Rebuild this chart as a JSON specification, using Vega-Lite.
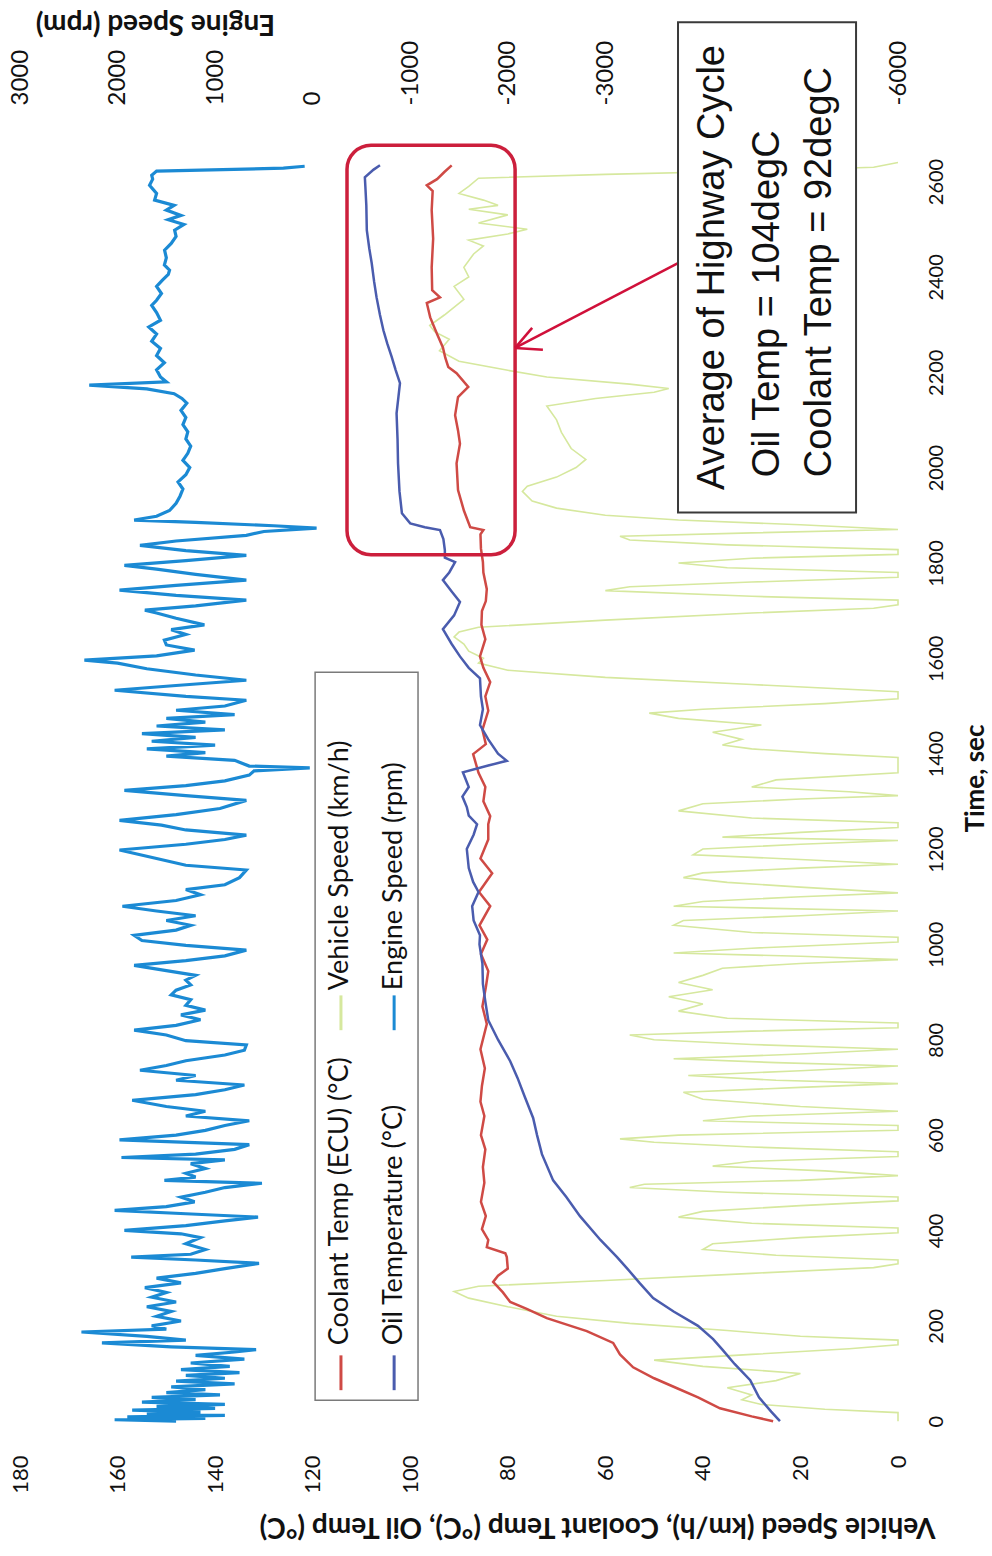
{
  "$schema": "https://vega.github.io/schema/vega-lite/v6.json",
  "width": 878,
  "height": 1335,
  "autosize": {"type": "none"},
  "padding": {"left": 20, "top": 110, "right": 94, "bottom": 111},
  "background": "white",
  "config": {
    "view": {"stroke": null},
    "axis": {"grid": false, "domain": false, "ticks": false, "tickSize": 0, "labelColor": "#111", "titleColor": "#111", "labelFont": "Lato", "titleFont": "Lato"}
  },
  "datasets": {
    "coolant": [
      {"t":0,"v":25.6},{"t":10,"v":30},{"t":27,"v":36.5},{"t":50,"v":41},{"t":69,"v":45.3},{"t":90,"v":50},{"t":113,"v":54.3},{"t":140,"v":57},{"t":164,"v":58.4},{"t":189,"v":63.8},{"t":216,"v":72},{"t":235,"v":76},{"t":250,"v":79.5},{"t":270,"v":81},{"t":292,"v":83},{"t":305,"v":82},{"t":320,"v":80},{"t":344,"v":80.2},{"t":352,"v":80.5},{"t":365,"v":84.3},{"t":380,"v":84},{"t":403,"v":85.3},{"t":430,"v":84.5},{"t":460,"v":85.5},{"t":500,"v":84.8},{"t":533,"v":85.1},{"t":570,"v":84.6},{"t":600,"v":85.5},{"t":640,"v":84.8},{"t":670,"v":85.6},{"t":703,"v":85.3},{"t":740,"v":84.7},{"t":780,"v":85.6},{"t":833,"v":84.3},{"t":870,"v":85.2},{"t":910,"v":84.5},{"t":944,"v":84},{"t":980,"v":85.5},{"t":1010,"v":84.2},{"t":1040,"v":85.8},{"t":1080,"v":83.6},{"t":1110,"v":85.9},{"t":1149,"v":83.2},{"t":1180,"v":85.6},{"t":1220,"v":84},{"t":1252,"v":84},{"t":1269,"v":83.6},{"t":1300,"v":85},{"t":1330,"v":84.6},{"t":1360,"v":86},{"t":1399,"v":87.1},{"t":1420,"v":84.5},{"t":1450,"v":85.2},{"t":1490,"v":84},{"t":1520,"v":84.6},{"t":1550,"v":83.6},{"t":1580,"v":85},{"t":1604,"v":85.7},{"t":1640,"v":84.6},{"t":1670,"v":85.4},{"t":1699,"v":85.3},{"t":1720,"v":84.5},{"t":1745,"v":84.3},{"t":1780,"v":85},{"t":1802,"v":85.1},{"t":1830,"v":85.5},{"t":1860,"v":85.6},{"t":1869,"v":85},{"t":1875,"v":87.7},{"t":1910,"v":89},{"t":1953,"v":90.2},{"t":2009,"v":90.5},{"t":2050,"v":89.8},{"t":2078,"v":90.2},{"t":2110,"v":90.8},{"t":2148,"v":90.2},{"t":2169,"v":88.1},{"t":2198,"v":90.5},{"t":2211,"v":92.2},{"t":2230,"v":92.8},{"t":2252,"v":93.3},{"t":2280,"v":94.5},{"t":2315,"v":95.9},{"t":2345,"v":96.6},{"t":2357,"v":93.9},{"t":2372,"v":95.5},{"t":2420,"v":95.6},{"t":2480,"v":95.3},{"t":2540,"v":95.6},{"t":2580,"v":95.4},{"t":2592,"v":96.6},{"t":2605,"v":94.5},{"t":2620,"v":93},{"t":2634,"v":91.5}
    ],
    "oil": [
      {"t":0,"v":24.2},{"t":20,"v":26},{"t":50,"v":28.5},{"t":86,"v":30.3},{"t":120,"v":33.5},{"t":150,"v":36},{"t":172,"v":37.9},{"t":200,"v":41},{"t":230,"v":46},{"t":258,"v":50.2},{"t":290,"v":53},{"t":320,"v":55.5},{"t":344,"v":57.6},{"t":380,"v":61},{"t":430,"v":65.2},{"t":470,"v":68},{"t":505,"v":70.7},{"t":560,"v":73},{"t":600,"v":74},{"t":636,"v":74.8},{"t":680,"v":76.5},{"t":720,"v":78},{"t":755,"v":79.5},{"t":800,"v":82},{"t":841,"v":84},{"t":880,"v":84.6},{"t":917,"v":85.1},{"t":960,"v":85.2},{"t":1000,"v":85.8},{"t":1019,"v":85.7},{"t":1050,"v":87},{"t":1080,"v":87.3},{"t":1110,"v":86},{"t":1131,"v":87.1},{"t":1160,"v":88},{"t":1200,"v":88.4},{"t":1230,"v":87},{"t":1252,"v":86.3},{"t":1270,"v":88},{"t":1288,"v":88.4},{"t":1310,"v":89.3},{"t":1330,"v":88},{"t":1361,"v":89.2},{"t":1375,"v":84},{"t":1385,"v":80.2},{"t":1400,"v":82},{"t":1430,"v":84},{"t":1460,"v":85.7},{"t":1493,"v":85.1},{"t":1520,"v":85.5},{"t":1558,"v":85.7},{"t":1580,"v":88},{"t":1604,"v":89.8},{"t":1630,"v":91.5},{"t":1661,"v":93.3},{"t":1690,"v":91},{"t":1718,"v":89.8},{"t":1740,"v":91.5},{"t":1764,"v":93.3},{"t":1780,"v":92},{"t":1802,"v":90.8},{"t":1811,"v":92.9},{"t":1827,"v":92.9},{"t":1850,"v":93.2},{"t":1869,"v":93.9},{"t":1875,"v":97},{"t":1883,"v":100},{"t":1904,"v":101.7},{"t":1950,"v":102.2},{"t":2009,"v":102.5},{"t":2060,"v":102.6},{"t":2114,"v":102.8},{"t":2150,"v":102.4},{"t":2177,"v":102.1},{"t":2205,"v":103},{"t":2232,"v":103.8},{"t":2260,"v":104.7},{"t":2288,"v":105.5},{"t":2320,"v":106.2},{"t":2357,"v":106.9},{"t":2390,"v":107.4},{"t":2429,"v":107.9},{"t":2460,"v":108.4},{"t":2498,"v":108.9},{"t":2550,"v":109},{"t":2590,"v":109.2},{"t":2609,"v":109.3},{"t":2625,"v":107.5},{"t":2634,"v":106.2}
    ],
    "speed": [
      {"t":0,"v":0},{"t":18,"v":0},{"t":25,"v":15},{"t":35,"v":28},{"t":45,"v":32},{"t":55,"v":30},{"t":70,"v":35},{"t":85,"v":25},{"t":100,"v":20},{"t":115,"v":40},{"t":128,"v":50},{"t":140,"v":30},{"t":152,"v":10},{"t":160,"v":0},{"t":170,"v":0},{"t":178,"v":20},{"t":190,"v":35},{"t":205,"v":55},{"t":220,"v":70},{"t":240,"v":80},{"t":258,"v":88},{"t":272,"v":91},{"t":283,"v":86},{"t":295,"v":60},{"t":310,"v":30},{"t":322,"v":5},{"t":330,"v":0},{"t":338,"v":0},{"t":348,"v":25},{"t":360,"v":40},{"t":372,"v":38},{"t":385,"v":20},{"t":395,"v":0},{"t":405,"v":0},{"t":415,"v":30},{"t":428,"v":45},{"t":440,"v":40},{"t":452,"v":20},{"t":462,"v":0},{"t":470,"v":0},{"t":480,"v":35},{"t":490,"v":55},{"t":497,"v":52},{"t":505,"v":20},{"t":515,"v":0},{"t":525,"v":15},{"t":535,"v":38},{"t":545,"v":30},{"t":555,"v":0},{"t":565,"v":0},{"t":575,"v":30},{"t":585,"v":50},{"t":592,"v":57},{"t":600,"v":45},{"t":610,"v":0},{"t":620,"v":0},{"t":630,"v":40},{"t":640,"v":30},{"t":650,"v":0},{"t":660,"v":20},{"t":675,"v":40},{"t":690,"v":44},{"t":700,"v":20},{"t":708,"v":0},{"t":715,"v":25},{"t":725,"v":43},{"t":735,"v":20},{"t":745,"v":0},{"t":752,"v":25},{"t":760,"v":46},{"t":770,"v":20},{"t":780,"v":0},{"t":790,"v":30},{"t":800,"v":50},{"t":810,"v":55},{"t":818,"v":30},{"t":825,"v":0},{"t":835,"v":0},{"t":845,"v":35},{"t":860,"v":45},{"t":875,"v":40},{"t":890,"v":47},{"t":905,"v":38},{"t":920,"v":45},{"t":935,"v":40},{"t":950,"v":36},{"t":960,"v":20},{"t":968,"v":0},{"t":975,"v":20},{"t":982,"v":46},{"t":992,"v":30},{"t":1005,"v":0},{"t":1015,"v":0},{"t":1025,"v":30},{"t":1040,"v":46},{"t":1050,"v":44},{"t":1060,"v":20},{"t":1070,"v":0},{"t":1080,"v":46},{"t":1090,"v":40},{"t":1100,"v":20},{"t":1108,"v":0},{"t":1120,"v":20},{"t":1130,"v":35},{"t":1140,"v":44},{"t":1150,"v":40},{"t":1160,"v":20},{"t":1168,"v":0},{"t":1178,"v":20},{"t":1188,"v":42},{"t":1200,"v":40},{"t":1210,"v":20},{"t":1218,"v":0},{"t":1225,"v":36},{"t":1235,"v":20},{"t":1245,"v":0},{"t":1255,"v":0},{"t":1265,"v":30},{"t":1280,"v":45},{"t":1295,"v":40},{"t":1305,"v":20},{"t":1312,"v":0},{"t":1320,"v":10},{"t":1330,"v":30},{"t":1345,"v":25},{"t":1360,"v":0},{"t":1392,"v":0},{"t":1400,"v":15},{"t":1410,"v":30},{"t":1418,"v":36},{"t":1430,"v":32},{"t":1445,"v":38},{"t":1460,"v":28},{"t":1474,"v":45},{"t":1485,"v":51},{"t":1493,"v":40},{"t":1505,"v":15},{"t":1515,"v":0},{"t":1530,"v":0},{"t":1545,"v":30},{"t":1560,"v":60},{"t":1575,"v":80},{"t":1590,"v":86},{"t":1600,"v":85},{"t":1615,"v":88},{"t":1630,"v":89},{"t":1645,"v":91},{"t":1655,"v":90},{"t":1665,"v":86},{"t":1680,"v":60},{"t":1695,"v":30},{"t":1705,"v":5},{"t":1712,"v":0},{"t":1722,"v":0},{"t":1730,"v":30},{"t":1742,"v":60},{"t":1750,"v":55},{"t":1760,"v":30},{"t":1770,"v":0},{"t":1780,"v":0},{"t":1790,"v":35},{"t":1800,"v":45},{"t":1810,"v":30},{"t":1818,"v":0},{"t":1828,"v":0},{"t":1838,"v":35},{"t":1848,"v":55},{"t":1856,"v":57},{"t":1863,"v":30},{"t":1870,"v":0},{"t":1880,"v":20},{"t":1890,"v":45},{"t":1900,"v":60},{"t":1915,"v":70},{"t":1930,"v":75},{"t":1950,"v":77},{"t":1961,"v":76},{"t":1980,"v":70},{"t":2000,"v":66},{"t":2017,"v":64},{"t":2040,"v":67},{"t":2074,"v":69},{"t":2100,"v":70},{"t":2129,"v":72},{"t":2145,"v":62},{"t":2158,"v":50},{"t":2166,"v":47},{"t":2175,"v":55},{"t":2190,"v":72},{"t":2204,"v":80},{"t":2223,"v":90},{"t":2245,"v":94},{"t":2269,"v":92},{"t":2285,"v":95},{"t":2298,"v":96},{"t":2320,"v":93},{"t":2353,"v":89},{"t":2380,"v":91},{"t":2400,"v":88},{"t":2420,"v":89},{"t":2448,"v":87},{"t":2465,"v":85},{"t":2477,"v":88},{"t":2490,"v":80},{"t":2500,"v":76},{"t":2513,"v":86},{"t":2530,"v":80},{"t":2542,"v":88},{"t":2550,"v":82},{"t":2561,"v":85},{"t":2575,"v":90},{"t":2590,"v":88},{"t":2607,"v":86},{"t":2615,"v":60},{"t":2622,"v":30},{"t":2630,"v":5},{"t":2640,"v":0}
    ],
    "engine": [
      {"t":0,"rpm":1400},{"t":3,"rpm":2030},{"t":6,"rpm":1100},{"t":9,"rpm":1900},{"t":12,"rpm":900},{"t":15,"rpm":1700},{"t":19,"rpm":1150},{"t":23,"rpm":1850},{"t":27,"rpm":1000},{"t":31,"rpm":1600},{"t":35,"rpm":900},{"t":40,"rpm":1750},{"t":45,"rpm":1200},{"t":50,"rpm":1650},{"t":55,"rpm":950},{"t":60,"rpm":1500},{"t":66,"rpm":1100},{"t":72,"rpm":1450},{"t":78,"rpm":800},{"t":84,"rpm":1400},{"t":90,"rpm":900},{"t":96,"rpm":1300},{"t":102,"rpm":750},{"t":108,"rpm":1350},{"t":115,"rpm":850},{"t":122,"rpm":1250},{"t":130,"rpm":700},{"t":138,"rpm":1200},{"t":145,"rpm":800},{"t":150,"rpm":580},{"t":156,"rpm":1450},{"t":164,"rpm":2160},{"t":170,"rpm":1300},{"t":178,"rpm":1700},{"t":187,"rpm":2370},{"t":193,"rpm":1500},{"t":200,"rpm":1650},{"t":210,"rpm":1350},{"t":220,"rpm":1600},{"t":230,"rpm":1450},{"t":240,"rpm":1700},{"t":250,"rpm":1400},{"t":260,"rpm":1650},{"t":270,"rpm":1500},{"t":280,"rpm":1720},{"t":290,"rpm":1350},{"t":300,"rpm":1600},{"t":310,"rpm":1200},{"t":320,"rpm":900},{"t":331,"rpm":550},{"t":338,"rpm":1200},{"t":344,"rpm":1860},{"t":350,"rpm":1250},{"t":360,"rpm":1100},{"t":372,"rpm":1300},{"t":385,"rpm":1150},{"t":393,"rpm":1350},{"t":400,"rpm":1930},{"t":410,"rpm":1300},{"t":420,"rpm":900},{"t":428,"rpm":560},{"t":435,"rpm":1300},{"t":442,"rpm":2030},{"t":450,"rpm":1500},{"t":460,"rpm":1210},{"t":470,"rpm":1350},{"t":480,"rpm":1100},{"t":490,"rpm":900},{"t":499,"rpm":520},{"t":505,"rpm":1520},{"t":512,"rpm":1200},{"t":520,"rpm":1300},{"t":530,"rpm":1100},{"t":540,"rpm":1250},{"t":548,"rpm":900},{"t":553,"rpm":1960},{"t":560,"rpm":1200},{"t":570,"rpm":800},{"t":580,"rpm":650},{"t":590,"rpm":1980},{"t":600,"rpm":1400},{"t":610,"rpm":1100},{"t":620,"rpm":900},{"t":630,"rpm":650},{"t":640,"rpm":1300},{"t":650,"rpm":1100},{"t":660,"rpm":1500},{"t":673,"rpm":1850},{"t":685,"rpm":1200},{"t":695,"rpm":900},{"t":705,"rpm":700},{"t":715,"rpm":1400},{"t":725,"rpm":1200},{"t":736,"rpm":1770},{"t":746,"rpm":1500},{"t":756,"rpm":1300},{"t":768,"rpm":900},{"t":778,"rpm":700},{"t":789,"rpm":680},{"t":798,"rpm":1300},{"t":810,"rpm":1500},{"t":820,"rpm":1830},{"t":830,"rpm":1400},{"t":842,"rpm":1150},{"t":852,"rpm":1350},{"t":862,"rpm":1100},{"t":872,"rpm":1300},{"t":884,"rpm":1250},{"t":894,"rpm":1450},{"t":904,"rpm":1400},{"t":915,"rpm":1250},{"t":925,"rpm":1300},{"t":935,"rpm":1200},{"t":945,"rpm":1500},{"t":956,"rpm":1830},{"t":966,"rpm":1300},{"t":976,"rpm":900},{"t":988,"rpm":680},{"t":998,"rpm":1300},{"t":1008,"rpm":1750},{"t":1019,"rpm":1830},{"t":1030,"rpm":1400},{"t":1040,"rpm":1250},{"t":1050,"rpm":1500},{"t":1060,"rpm":1200},{"t":1070,"rpm":1600},{"t":1080,"rpm":1950},{"t":1092,"rpm":1400},{"t":1104,"rpm":1150},{"t":1115,"rpm":1300},{"t":1125,"rpm":900},{"t":1140,"rpm":750},{"t":1156,"rpm":680},{"t":1166,"rpm":1300},{"t":1180,"rpm":1600},{"t":1198,"rpm":1980},{"t":1210,"rpm":1300},{"t":1220,"rpm":900},{"t":1229,"rpm":680},{"t":1240,"rpm":1300},{"t":1250,"rpm":1550},{"t":1260,"rpm":1980},{"t":1272,"rpm":1400},{"t":1285,"rpm":950},{"t":1302,"rpm":680},{"t":1312,"rpm":1300},{"t":1323,"rpm":1930},{"t":1333,"rpm":1300},{"t":1343,"rpm":900},{"t":1355,"rpm":650},{"t":1364,"rpm":600},{"t":1370,"rpm":30},{"t":1374,"rpm":650},{"t":1386,"rpm":800},{"t":1395,"rpm":1500},{"t":1402,"rpm":1100},{"t":1410,"rpm":1700},{"t":1418,"rpm":1000},{"t":1426,"rpm":1650},{"t":1434,"rpm":1200},{"t":1442,"rpm":1750},{"t":1450,"rpm":900},{"t":1458,"rpm":1600},{"t":1466,"rpm":1100},{"t":1474,"rpm":1500},{"t":1482,"rpm":800},{"t":1491,"rpm":1400},{"t":1500,"rpm":900},{"t":1512,"rpm":680},{"t":1520,"rpm":1300},{"t":1533,"rpm":2030},{"t":1543,"rpm":1400},{"t":1554,"rpm":680},{"t":1565,"rpm":1200},{"t":1578,"rpm":1700},{"t":1590,"rpm":2000},{"t":1596,"rpm":2340},{"t":1605,"rpm":1600},{"t":1617,"rpm":1210},{"t":1628,"rpm":1500},{"t":1638,"rpm":1520},{"t":1650,"rpm":1300},{"t":1660,"rpm":1450},{"t":1670,"rpm":1110},{"t":1684,"rpm":1400},{"t":1695,"rpm":1600},{"t":1701,"rpm":1720},{"t":1710,"rpm":1200},{"t":1722,"rpm":680},{"t":1732,"rpm":1400},{"t":1743,"rpm":1980},{"t":1753,"rpm":1400},{"t":1764,"rpm":680},{"t":1776,"rpm":1200},{"t":1787,"rpm":1600},{"t":1795,"rpm":1930},{"t":1805,"rpm":1300},{"t":1816,"rpm":680},{"t":1826,"rpm":1300},{"t":1837,"rpm":1770},{"t":1846,"rpm":1400},{"t":1858,"rpm":680},{"t":1866,"rpm":500},{"t":1873,"rpm":-40},{"t":1878,"rpm":400},{"t":1885,"rpm":1200},{"t":1890,"rpm":1830},{"t":1898,"rpm":1600},{"t":1910,"rpm":1467},{"t":1925,"rpm":1400},{"t":1940,"rpm":1360},{"t":1955,"rpm":1330},{"t":1970,"rpm":1380},{"t":1985,"rpm":1300},{"t":2000,"rpm":1260},{"t":2015,"rpm":1330},{"t":2030,"rpm":1280},{"t":2045,"rpm":1250},{"t":2060,"rpm":1300},{"t":2075,"rpm":1280},{"t":2090,"rpm":1330},{"t":2105,"rpm":1300},{"t":2120,"rpm":1350},{"t":2135,"rpm":1290},{"t":2145,"rpm":1340},{"t":2155,"rpm":1420},{"t":2165,"rpm":1700},{"t":2173,"rpm":2290},{"t":2180,"rpm":1500},{"t":2190,"rpm":1560},{"t":2205,"rpm":1600},{"t":2220,"rpm":1520},{"t":2235,"rpm":1600},{"t":2250,"rpm":1560},{"t":2265,"rpm":1650},{"t":2280,"rpm":1600},{"t":2295,"rpm":1680},{"t":2309,"rpm":1560},{"t":2325,"rpm":1600},{"t":2340,"rpm":1650},{"t":2351,"rpm":1600},{"t":2365,"rpm":1550},{"t":2380,"rpm":1600},{"t":2393,"rpm":1540},{"t":2405,"rpm":1480},{"t":2414,"rpm":1467},{"t":2425,"rpm":1520},{"t":2440,"rpm":1500},{"t":2456,"rpm":1518},{"t":2470,"rpm":1450},{"t":2485,"rpm":1400},{"t":2498,"rpm":1415},{"t":2510,"rpm":1320},{"t":2520,"rpm":1480},{"t":2529,"rpm":1350},{"t":2540,"rpm":1500},{"t":2550,"rpm":1420},{"t":2561,"rpm":1620},{"t":2575,"rpm":1600},{"t":2592,"rpm":1672},{"t":2605,"rpm":1640},{"t":2613,"rpm":1650},{"t":2622,"rpm":1600},{"t":2628,"rpm":300},{"t":2632,"rpm":82}
    ],
    "legendSymbols": [
      {"series":"Coolant Temp (ECU) (°C)","v":114.2,"t":65,"t2":138},
      {"series":"Vehicle Speed (km/h)","v":114.2,"t":820,"t2":893},
      {"series":"Oil Temperature (°C)","v":103.3,"t":65,"t2":138},
      {"series":"Engine Speed (rpm)","v":103.3,"t":820,"t2":893}
    ],
    "legendLabels": [
      {"series":"Coolant Temp (ECU) (°C)","v":114.4,"t":159},
      {"series":"Vehicle Speed (km/h)","v":114.4,"t":904},
      {"series":"Oil Temperature (°C)","v":103.3,"t":159},
      {"series":"Engine Speed (rpm)","v":103.3,"t":904}
    ],
    "note": [
      {"line":"Average of Highway Cycle","v":37.9,"t":1953},
      {"line":"Oil Temp = 104degC","v":26.6,"t":1980},
      {"line":"Coolant Temp = 92degC","v":16.0,"t":1980}
    ],
    "arrow": [
      {"v":45.1,"t":2429,"v2":78.5,"t2":2251},
      {"v":78.5,"t":2251,"v2":75.0,"t2":2293},
      {"v":78.5,"t":2251,"v2":72.8,"t2":2247}
    ]
  },
  "encoding": {
    "y": {
      "field": "t", "type": "quantitative",
      "scale": {"domain": [-50, 2750], "nice": false, "zero": false},
      "axis": {
        "orient": "right", "values": [0,200,400,600,800,1000,1200,1400,1600,1800,2000,2200,2400,2600],
        "labelExpr": "datum.value + ''", "labelAngle": 270, "labelAlign": "center", "labelBaseline": "top",
        "labelPadding": 28, "labelFontSize": 20,
        "title": "Time, sec", "titleAngle": 270, "titleFontSize": 26, "titleFontWeight": "bold",
        "titleX": 77, "titleY": 668, "titleAlign": "center", "titleBaseline": "middle"
      }
    }
  },
  "layer": [
    {
      "data": {"name": "engine"},
      "mark": {"type": "line", "color": "#1b8ad4", "strokeWidth": 3.2},
      "encoding": {
        "x": {
          "field": "rpm", "type": "quantitative",
          "scale": {"domain": [-6000, 3000], "reverse": true, "nice": false, "zero": false},
          "axis": {
            "orient": "top", "values": [3000,2000,1000,0,-1000,-2000,-3000,-6000],
            "labelExpr": "datum.value + ''", "labelAngle": 270, "labelAlign": "left", "labelBaseline": "middle",
            "labelPadding": 5, "labelFontSize": 24,
            "title": "Engine Speed (rpm)", "titleAngle": 180, "titleFontSize": 28, "titleFontWeight": "bold",
            "titleX": 135, "titleY": -88, "titleAlign": "center", "titleBaseline": "middle"
          }
        },
        "order": {"field": "t", "type": "quantitative"}
      }
    },
    {
      "encoding": {
        "x": {
          "field": "v", "type": "quantitative",
          "scale": {"domain": [0, 180], "reverse": true, "nice": false, "zero": false},
          "axis": {
            "orient": "bottom", "values": [0,20,40,60,80,100,120,140,160,180],
            "labelExpr": "datum.value + ''", "labelAngle": 270, "labelAlign": "right", "labelBaseline": "middle",
            "labelPadding": 10, "labelFontSize": 22,
            "title": "Vehicle Speed (km/h), Coolant Temp (°C), Oil Temp (°C)", "titleAngle": 180, "titleFontSize": 28, "titleFontWeight": "bold",
            "titleX": 577, "titleY": 80, "titleAlign": "center", "titleBaseline": "middle"
          }
        }
      },
      "layer": [
        {
          "data": {"name": "speed"},
          "mark": {"type": "line", "color": "#d6e89e", "strokeWidth": 1.6},
          "encoding": {"order": {"field": "t", "type": "quantitative"}}
        },
        {
          "data": {"name": "coolant"},
          "mark": {"type": "line", "color": "#cf4a45", "strokeWidth": 2.5},
          "encoding": {"order": {"field": "t", "type": "quantitative"}}
        },
        {
          "data": {"name": "oil"},
          "mark": {"type": "line", "color": "#4a5cae", "strokeWidth": 2.5},
          "encoding": {"order": {"field": "t", "type": "quantitative"}}
        },
        {
          "data": {"values": [{"v": 119.5, "v2": 98.4, "t": 44, "t2": 1571}]},
          "mark": {"type": "rect", "fill": "white", "stroke": "#7a7a7a", "strokeWidth": 1.5},
          "encoding": {"x2": {"field": "v2"}, "y2": {"field": "t2"}}
        },
        {
          "data": {"name": "legendSymbols"},
          "mark": {"type": "rule", "strokeWidth": 3},
          "encoding": {
            "y2": {"field": "t2"},
            "color": {
              "field": "series", "type": "nominal", "legend": null,
              "scale": {
                "domain": ["Coolant Temp (ECU) (°C)", "Vehicle Speed (km/h)", "Oil Temperature (°C)", "Engine Speed (rpm)"],
                "range": ["#cf4a45", "#d6e89e", "#4a5cae", "#1b8ad4"]
              }
            }
          }
        },
        {
          "data": {"name": "legendLabels"},
          "mark": {"type": "text", "angle": 270, "align": "left", "baseline": "middle", "font": "Lato", "fontSize": 27, "color": "#111"},
          "encoding": {"text": {"field": "series"}}
        },
        {
          "data": {"values": [{"v": 112.96, "v2": 78.5, "t": 2676, "t2": 1817}]},
          "mark": {"type": "rect", "fill": null, "fillOpacity": 0, "stroke": "#cc1f3c", "strokeWidth": 3.5, "cornerRadius": 24},
          "encoding": {"x2": {"field": "v2"}, "y2": {"field": "t2"}}
        },
        {
          "data": {"name": "arrow"},
          "mark": {"type": "rule", "color": "#d0103a", "strokeWidth": 2.5},
          "encoding": {"x2": {"field": "v2"}, "y2": {"field": "t2"}}
        },
        {
          "data": {"values": [{"v": 45.1, "v2": 8.6, "t": 2934, "t2": 1906}]},
          "mark": {"type": "rect", "fill": "white", "stroke": "#3a3a3a", "strokeWidth": 2},
          "encoding": {"x2": {"field": "v2"}, "y2": {"field": "t2"}}
        },
        {
          "data": {"name": "note"},
          "mark": {"type": "text", "angle": 270, "align": "left", "baseline": "middle", "font": "Liberation Sans", "fontSize": 38, "color": "#111"},
          "encoding": {"text": {"field": "line"}}
        }
      ]
    }
  ],
  "resolve": {"scale": {"x": "independent"}, "axis": {"x": "independent"}}
}
